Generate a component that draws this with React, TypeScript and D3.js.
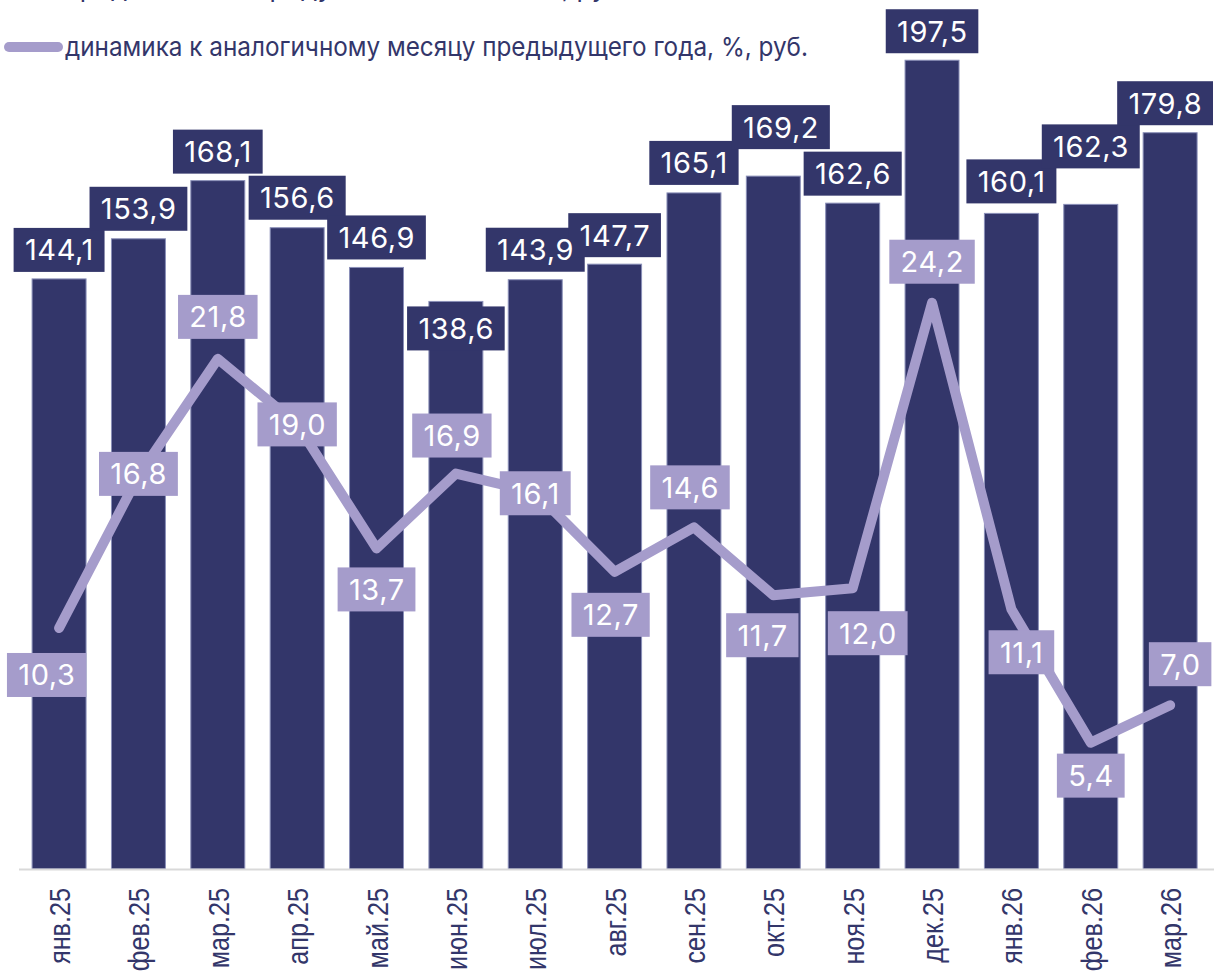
import React, { useEffect, useRef } from 'react';
import * as d3 from 'd3';

const months = ['янв.25', 'фев.25', 'мар.25', 'апр.25', 'май.25', 'июн.25', 'июл.25', 'авг.25', 'сен.25', 'окт.25', 'ноя.25', 'дек.25', 'янв.26', 'фев.26', 'мар.26'];
const averageCheck = [144.1, 153.9, 168.1, 156.6, 146.9, 138.6, 143.9, 147.7, 165.1, 169.2, 162.6, 197.5, 160.1, 162.3, 179.8];
const growthYoY = [10.3, 16.8, 21.8, 19.0, 13.7, 16.9, 16.1, 12.7, 14.6, 11.7, 12.0, 24.2, 11.1, 5.4, 7.0];

const legendBars = 'средний чек в продуктовых магазинах, руб.';
const legendLine = 'динамика к аналогичному месяцу предыдущего года, %, руб.';

// label placement offsets (style, not data)
const barLabelDy = [-29, -30, -29, -30, -30, 27, -30, -29, -30, -49, -29.5, -29, -32, -58, -29.5];
const barLabelDx = [0, 0, 0, 0, 0, 0, 0, 0, 0, 7.5, 0, 0, 0, 0, 0];
const lineLabelDy = [47, -2, -42, 0, 41, -38, 1, 43, -40, 40, 45, -41, 43, 33, -41];
const lineLabelDx = [-12.5, 0, 0, 0, 0, -4, 0, -4, -4, -11, 15, 0, 10, 0, 10];

const NAVY = '#33366a';
const LILAC = '#a59ccb';

const fmt = (v: number) => v.toFixed(1).replace('.', ',');

export default function App() {
  const ref = useRef<SVGSVGElement | null>(null);

  useEffect(() => {
    document.body.style.margin = '0';
    const svg = d3.select(ref.current);
    svg.selectAll('*').remove();

    const baseY = 869;
    const x = d3.scaleBand<string>().domain(months).range([19.4, 1209.8]).paddingInner(0.32).paddingOuter(0.16);
    const yBar = d3.scaleLinear().domain([0, 200]).range([baseY, 50]);
    const yLine = d3.scaleLinear().domain([0, 35]).range([baseY, 50]);
    const cx = (m: string) => (x(m) as number) + x.bandwidth() / 2;

    // legend
    const lg = svg.append('g');
    lg.append('text')
      .attr('x', 65).attr('y', -3)
      .attr('font-family', 'Inter').attr('font-size', 26)
      .attr('fill', NAVY).text(legendBars);
    lg.append('line')
      .attr('x1', 9).attr('x2', 58).attr('y1', 47).attr('y2', 47)
      .attr('stroke', LILAC).attr('stroke-width', 10).attr('stroke-linecap', 'round');
    lg.append('text')
      .attr('x', 65).attr('y', 47).attr('dy', '0.35em')
      .attr('font-family', 'Inter').attr('font-size', 26)
      .attr('textLength', 743).attr('lengthAdjust', 'spacingAndGlyphs')
      .attr('fill', NAVY).text(legendLine);

    // bars
    svg.append('g').selectAll('rect').data(months).join('rect')
      .attr('x', (d) => x(d) as number)
      .attr('y', (d, i) => yBar(averageCheck[i]))
      .attr('width', x.bandwidth())
      .attr('height', (d, i) => baseY - yBar(averageCheck[i]))
      .attr('fill', NAVY)
      .attr('stroke', '#8a8fb8').attr('stroke-width', 1);

    // axis line
    svg.append('line')
      .attr('x1', 19).attr('x2', 1214).attr('y1', baseY + 0.5).attr('y2', baseY + 0.5)
      .attr('stroke', '#d9d9d9').attr('stroke-width', 2);

    // axis labels
    svg.append('g').selectAll('text').data(months).join('text')
      .attr('transform', (d) => `translate(${cx(d) + 11},888) rotate(-90) scale(0.84,1)`)
      .attr('text-anchor', 'end')
      .attr('font-family', 'Liberation Sans, Arial, sans-serif')
      .attr('font-size', 30)
      .attr('fill', NAVY)
      .text((d) => d);

    // line
    const line = d3.line<number>()
      .x((d, i) => cx(months[i]))
      .y((d) => yLine(d));
    svg.append('path')
      .attr('d', line(growthYoY) as string)
      .attr('fill', 'none')
      .attr('stroke', LILAC).attr('stroke-width', 10)
      .attr('stroke-linejoin', 'round').attr('stroke-linecap', 'round');

    const drawLabels = (pts: { lx: number; ly: number; txt: string }[], fill: string) => {
      const boxes = svg.append('g');
      const texts = svg.append('g');
      pts.forEach(({ lx, ly, txt }) => {
        const t = texts.append('text')
          .attr('x', lx).attr('y', ly).attr('dy', '0.36em')
          .attr('text-anchor', 'middle')
          .attr('font-family', 'Inter').attr('font-size', 29)
          .attr('letter-spacing', 0.6)
          .attr('fill', '#ffffff').text(txt);
        const w = (t.node() as SVGTextElement).getComputedTextLength() + 22;
        const h = 44;
        let left = lx - w / 2;
        if (left + w > 1213) left = 1213 - w;
        if (left < 0) left = 0;
        boxes.append('rect')
          .attr('x', left).attr('y', ly - h / 2).attr('width', w).attr('height', h)
          .attr('fill', fill);
        t.attr('x', left + w / 2 + 0.3);
      });
    };

    drawLabels(months.map((m, i) => ({
      lx: cx(m) + barLabelDx[i],
      ly: yBar(averageCheck[i]) + barLabelDy[i],
      txt: fmt(averageCheck[i]),
    })), NAVY);

    drawLabels(months.map((m, i) => ({
      lx: cx(m) + lineLabelDx[i],
      ly: yLine(growthYoY[i]) + lineLabelDy[i],
      txt: fmt(growthYoY[i]),
    })), LILAC);
  }, []);

  return (
    <svg
      ref={ref}
      width={1214}
      height={971}
      style={{ position: 'absolute', left: 0, top: 0, display: 'block', background: '#fff' }}
    />
  );
}
